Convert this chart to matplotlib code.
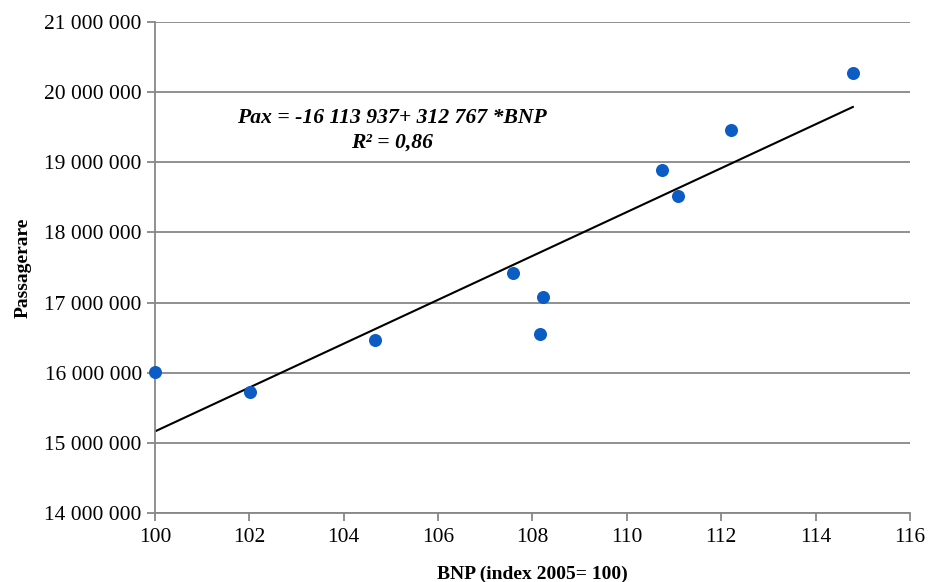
import matplotlib
matplotlib.use("Agg")
import matplotlib.pyplot as plt
from matplotlib.ticker import FuncFormatter
import numpy as np

plt.rcParams['font.family'] = ['Liberation Serif', 'DejaVu Serif']

bnp = [100.0, 102.01, 104.66, 107.59, 108.22, 108.16, 110.74, 111.08, 112.21, 114.79]
pax = [16010000, 15725000, 16466000, 17420000, 17080000, 16550000, 18890000, 18520000, 19460000, 20270000]
intercept = -16113937
slope = 312767
r2_text = "R² = 0,86"
eq_text = "Pax = -16 113 937+ 312 767 *BNP"

fig = plt.figure(figsize=(9.29, 5.82), dpi=100)
ax = fig.add_axes([0.1668, 0.1186, 0.9795 - 0.1668, 0.9622 - 0.1186])

grid_c = '#878787'
ax.set_xlim(100, 116)
ax.set_ylim(14000000, 21000000)
ax.set_xticks(np.arange(100, 117, 2))
ax.set_yticks(np.arange(14000000, 21000001, 1000000))
ax.yaxis.set_major_formatter(FuncFormatter(lambda v, p: f"{int(v):,}".replace(",", " ")))
ax.grid(axis='y', color=grid_c, linewidth=1.3)
ax.set_axisbelow(True)
for s in ['top', 'right']:
    ax.spines[s].set_visible(False)
for s in ['left', 'bottom']:
    ax.spines[s].set_color(grid_c)
    ax.spines[s].set_linewidth(1.3)
ax.tick_params(axis='both', colors=grid_c, labelcolor='black', labelsize=15.5, length=6, width=1.3)
ax.tick_params(axis='x', pad=5)

xs = np.array([min(bnp), max(bnp)])
ax.plot(xs, intercept + slope * xs, color='black', linewidth=1.5, zorder=2)
ax.scatter(bnp, pax, s=88, color='#0B5CC4', zorder=3, clip_on=False, linewidths=0)

ax.text(105.02, 19460000, eq_text + "\n" + r2_text, ha='center', va='center',
        fontsize=15.6, fontweight='bold', fontstyle='italic', linespacing=1.3)

ax.set_xlabel("BNP (index 2005= 100)", fontsize=14, fontweight='bold', labelpad=13)
ax.set_ylabel("Passagerare", fontsize=14, fontweight='bold', labelpad=9)

fig.savefig("out.png", dpi=100)
